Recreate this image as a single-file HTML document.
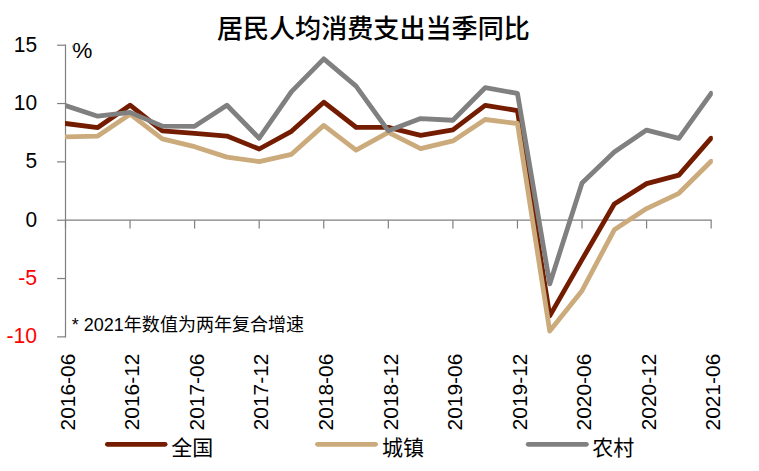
<!DOCTYPE html>
<html lang="zh"><head><meta charset="utf-8"><title>居民人均消费支出当季同比</title>
<style>
html,body{margin:0;padding:0;background:#fff;}
body{width:759px;height:471px;overflow:hidden;position:relative;font-family:"Liberation Sans","Noto Sans CJK SC",sans-serif;}
svg{display:block;position:absolute;left:0;top:0;}
svg text{font-family:"Liberation Sans","Noto Sans CJK SC",sans-serif;white-space:pre;}
</style></head><body>
<svg width="759" height="471" viewBox="0 0 759 471"><g stroke="#7f7f7f" stroke-width="1.2" fill="none" shape-rendering="auto">
<path d="M65.50 44.61V337.46"/>
<path d="M57.10 45.21H65.50"/>
<path d="M57.10 103.54H65.50"/>
<path d="M57.10 161.87H65.50"/>
<path d="M57.10 220.20H65.50"/>
<path d="M57.10 278.53H65.50"/>
<path d="M57.10 336.86H65.50"/>
<path d="M65.50 220.20H711.75"/>
<path d="M65.50 220.20V228.50"/>
<path d="M130.06 220.20V228.50"/>
<path d="M194.63 220.20V228.50"/>
<path d="M259.19 220.20V228.50"/>
<path d="M323.76 220.20V228.50"/>
<path d="M388.32 220.20V228.50"/>
<path d="M452.89 220.20V228.50"/>
<path d="M517.45 220.20V228.50"/>
<path d="M582.02 220.20V228.50"/>
<path d="M646.59 220.20V228.50"/>
<path d="M711.15 220.20V228.50"/>
</g>
<clipPath id="plot"><rect x="65.0" y="0" width="647.85" height="471"/></clipPath><g clip-path="url(#plot)">
<polyline points="65.50,123.50 97.78,127.55 130.06,105.20 162.35,130.80 194.63,133.30 226.91,136.10 259.19,149.00 291.48,131.30 323.76,102.20 356.04,127.25 388.32,127.45 420.61,135.40 452.89,129.90 485.17,105.30 517.45,110.60 549.74,315.90 582.02,259.60 614.30,204.05 646.59,183.60 678.87,175.10 711.15,138.20" fill="none" stroke="#741c00" stroke-width="4.8" stroke-linejoin="round" stroke-linecap="round"/>
<polyline points="65.50,136.80 97.78,136.10 130.06,114.20 162.35,138.80 194.63,146.70 226.91,157.10 259.19,161.55 291.48,154.30 323.76,125.40 356.04,150.15 388.32,132.30 420.61,148.60 452.89,140.90 485.17,119.50 517.45,123.50 549.74,331.10 582.02,290.70 614.30,229.80 646.59,208.60 678.87,193.30 711.15,161.30" fill="none" stroke="#cbab7c" stroke-width="4.8" stroke-linejoin="round" stroke-linecap="round"/>
<polyline points="65.50,105.60 97.78,116.20 130.06,112.40 162.35,126.10 194.63,126.30 226.91,105.30 259.19,138.20 291.48,91.60 323.76,58.85 356.04,86.10 388.32,130.80 420.61,118.60 452.89,120.25 485.17,87.70 517.45,93.40 549.74,283.95 582.02,182.90 614.30,152.00 646.59,130.10 678.87,138.30 711.15,93.40" fill="none" stroke="#808080" stroke-width="4.8" stroke-linejoin="round" stroke-linecap="round"/>
</g>
<path d="M107.4 444.3H165.1" stroke="#741c00" stroke-width="4.8" stroke-linecap="round" fill="none"/>
<text transform="translate(171.90 454.90)" x="-0.59" y="0" font-size="21.00" textLength="42.00" lengthAdjust="spacingAndGlyphs" fill="#000">全国</text>
<path d="M317.5 444.3H375.6" stroke="#cbab7c" stroke-width="4.8" stroke-linecap="round" fill="none"/>
<text transform="translate(382.90 454.90)" x="-0.90" y="0" font-size="21.00" textLength="42.00" lengthAdjust="spacingAndGlyphs" fill="#000">城镇</text>
<path d="M528.2 444.3H586.4" stroke="#808080" stroke-width="4.8" stroke-linecap="round" fill="none"/>
<text transform="translate(592.90 454.90)" x="-0.74" y="0" font-size="21.00" textLength="42.00" lengthAdjust="spacingAndGlyphs" fill="#000">农村</text>
<text transform="translate(217.60 37.60)" x="-0.73" y="0" font-size="26.08" font-weight="500" textLength="312.96" lengthAdjust="spacingAndGlyphs" fill="#000">居民人均消费支出当季同比</text>
<text transform="translate(36.00 51.61)" x="-22.15" y="0" font-size="21.20" textLength="23.28" lengthAdjust="spacingAndGlyphs" fill="#000">15</text>
<text transform="translate(36.00 109.94)" x="-22.22" y="0" font-size="21.20" textLength="23.28" lengthAdjust="spacingAndGlyphs" fill="#000">10</text>
<text transform="translate(36.00 168.27)" x="-10.52" y="0" font-size="21.20" textLength="11.64" lengthAdjust="spacingAndGlyphs" fill="#000">5</text>
<text transform="translate(36.00 226.60)" x="-10.58" y="0" font-size="21.20" textLength="11.64" lengthAdjust="spacingAndGlyphs" fill="#000">0</text>
<text transform="translate(36.00 284.93)" x="-17.79" y="0" font-size="21.20" textLength="18.91" lengthAdjust="spacingAndGlyphs" fill="#ff0000">-5</text>
<text transform="translate(36.00 343.26)" x="-29.49" y="0" font-size="21.20" textLength="30.55" lengthAdjust="spacingAndGlyphs" fill="#ff0000">-10</text>
<text transform="translate(73.20 58.00)" x="-0.88" y="0" font-size="22.00" textLength="20.11" lengthAdjust="spacingAndGlyphs" fill="#000">%</text>
<rect id="blob" x="71.9" y="45.4" width="1.7" height="2.3" fill="#8a8a8a" opacity="0.75"/>
<text transform="translate(73.00 331.30)" x="-1.23" y="0" font-size="18.03" textLength="232.21" lengthAdjust="spacingAndGlyphs" fill="#000">* 2021年数值为两年复合增速</text>
<text transform="translate(74.70 354.60) rotate(-90)" x="-75.81" y="0" font-size="21.10" textLength="76.74" lengthAdjust="spacingAndGlyphs" fill="#000">2016-06</text>
<text transform="translate(139.26 354.60) rotate(-90)" x="-75.69" y="0" font-size="21.10" textLength="76.74" lengthAdjust="spacingAndGlyphs" fill="#000">2016-12</text>
<text transform="translate(203.83 354.60) rotate(-90)" x="-75.81" y="0" font-size="21.10" textLength="76.74" lengthAdjust="spacingAndGlyphs" fill="#000">2017-06</text>
<text transform="translate(268.39 354.60) rotate(-90)" x="-75.69" y="0" font-size="21.10" textLength="76.74" lengthAdjust="spacingAndGlyphs" fill="#000">2017-12</text>
<text transform="translate(332.96 354.60) rotate(-90)" x="-75.81" y="0" font-size="21.10" textLength="76.74" lengthAdjust="spacingAndGlyphs" fill="#000">2018-06</text>
<text transform="translate(397.52 354.60) rotate(-90)" x="-75.69" y="0" font-size="21.10" textLength="76.74" lengthAdjust="spacingAndGlyphs" fill="#000">2018-12</text>
<text transform="translate(462.09 354.60) rotate(-90)" x="-75.81" y="0" font-size="21.10" textLength="76.74" lengthAdjust="spacingAndGlyphs" fill="#000">2019-06</text>
<text transform="translate(526.65 354.60) rotate(-90)" x="-75.69" y="0" font-size="21.10" textLength="76.74" lengthAdjust="spacingAndGlyphs" fill="#000">2019-12</text>
<text transform="translate(591.22 354.60) rotate(-90)" x="-75.81" y="0" font-size="21.10" textLength="76.74" lengthAdjust="spacingAndGlyphs" fill="#000">2020-06</text>
<text transform="translate(655.79 354.60) rotate(-90)" x="-75.69" y="0" font-size="21.10" textLength="76.74" lengthAdjust="spacingAndGlyphs" fill="#000">2020-12</text>
<text transform="translate(720.35 354.60) rotate(-90)" x="-75.81" y="0" font-size="21.10" textLength="76.74" lengthAdjust="spacingAndGlyphs" fill="#000">2021-06</text></svg>
</body></html>
